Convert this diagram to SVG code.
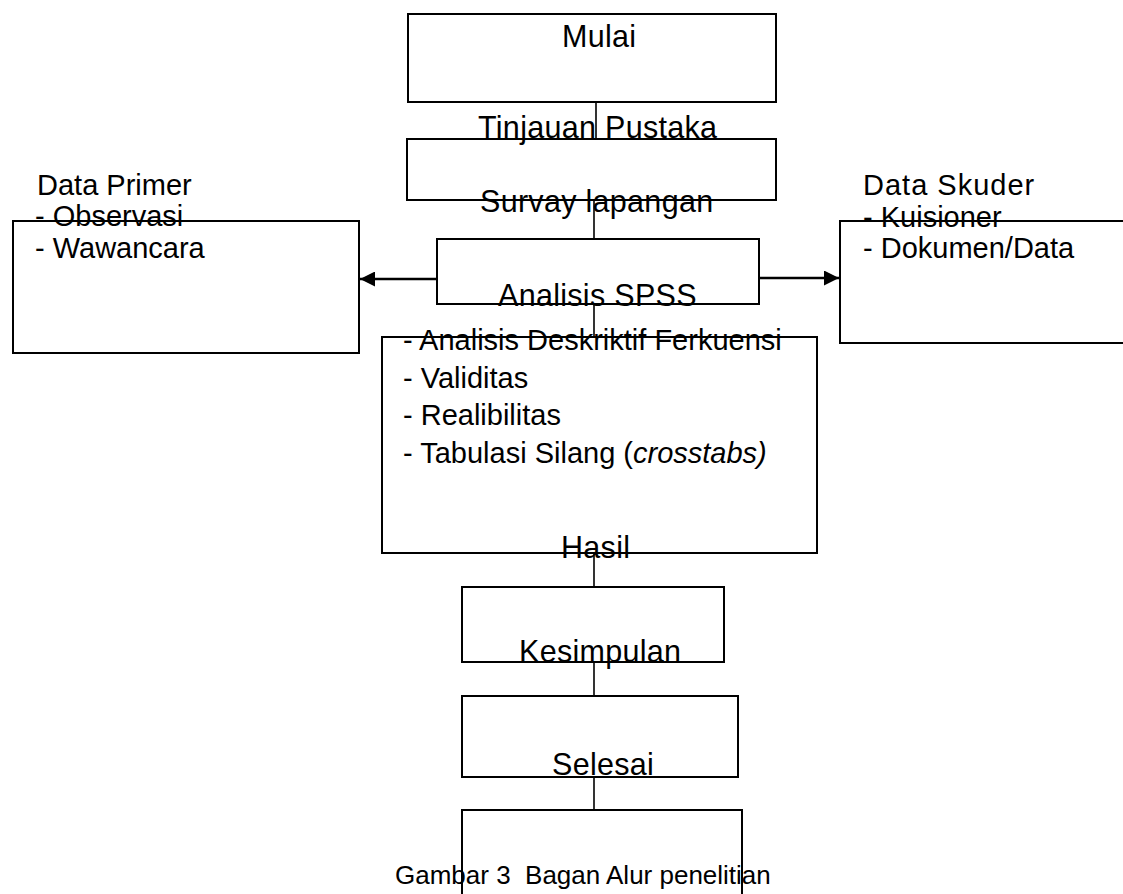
<svg xmlns="http://www.w3.org/2000/svg" width="1123" height="894" viewBox="0 0 1123 894">
<defs>
<style>
.box{fill:none;stroke:#000;stroke-width:2}
.lbl{font-family:"Liberation Sans",Arial,sans-serif;font-size:30.5px;letter-spacing:0.3px;fill:#000}
.lst{font-family:"Liberation Sans",Arial,sans-serif;font-size:29px;fill:#000}
.cap{font-family:"Liberation Sans",Arial,sans-serif;font-size:26px;fill:#000;white-space:pre}
.ln{stroke:#000;stroke-width:1.6;fill:none}
.ar{stroke:#000;stroke-width:2.5;fill:none}
</style>
<marker id="ah" viewBox="0 0 10 10" refX="10" refY="5" markerWidth="6.5" markerHeight="6" markerUnits="strokeWidth" orient="auto">
<path d="M0,0 L10,5 L0,10 z" fill="#000"/>
</marker>
</defs>
<rect width="1123" height="894" fill="#fff"/>
<g id="connectors">
<line class="ln" x1="596" y1="102" x2="596" y2="139"/>
<line class="ln" x1="594" y1="200" x2="594" y2="239"/>
<line class="ln" x1="594" y1="304" x2="594" y2="337"/>
<line class="ln" x1="594" y1="553" x2="594" y2="587"/>
<line class="ln" x1="594" y1="662" x2="594" y2="696"/>
<line class="ln" x1="594" y1="777" x2="594" y2="810"/>
<line class="ar" x1="437" y1="279" x2="360" y2="279" marker-end="url(#ah)"/>
<line class="ar" x1="759" y1="278" x2="839" y2="278" marker-end="url(#ah)"/>
</g>
<g id="mulai">
<rect class="box" x="408" y="14" width="368" height="88"/>
<text class="lbl" x="562" y="47">Mulai</text>
</g>
<g id="tinjauan">
<rect class="box" x="407" y="139" width="369" height="61"/>
<text class="lbl" x="478" y="138">Tinjauan Pustaka</text>
</g>
<g id="survay">
<rect class="box" x="437" y="239" width="322" height="65"/>
<text class="lbl" x="480" y="212">Survay lapangan</text>
</g>
<g id="data-primer">
<rect class="box" x="13" y="221" width="346" height="132"/>
<text class="lst" x="37" y="195">Data Primer</text>
<text class="lst" x="35" y="226">- Observasi</text>
<text class="lst" x="35" y="258">- Wawancara</text>
</g>
<g id="data-skuder">
<rect class="box" x="840" y="221" width="300" height="122"/>
<text class="lst" x="863" y="195" style="letter-spacing:1px">Data Skuder</text>
<text class="lst" x="863" y="227">- Kuisioner</text>
<text class="lst" x="863" y="258">- Dokumen/Data</text>
</g>
<g id="analisis">
<rect class="box" x="382" y="337" width="435" height="216"/>
<text class="lbl" x="498" y="306">Analisis SPSS</text>
<text class="lst" x="403" y="350">- Analisis Deskriktif Ferkuensi</text>
<text class="lst" x="403" y="388">- Validitas</text>
<text class="lst" x="403" y="425">- Realibilitas</text>
<text class="lst" x="403" y="463">- Tabulasi Silang (<tspan font-style="italic">crosstabs)</tspan></text>
</g>
<g id="hasil">
<rect class="box" x="462" y="587" width="262" height="75"/>
<text class="lbl" x="561" y="558">Hasil</text>
</g>
<g id="kesimpulan">
<rect class="box" x="462" y="696" width="276" height="81"/>
<text class="lbl" x="519" y="662">Kesimpulan</text>
</g>
<g id="selesai">
<rect class="box" x="462" y="810" width="280" height="100"/>
<text class="lbl" x="552" y="775">Selesai</text>
</g>
<g id="caption">
<text class="cap" x="395" y="884">Gambar 3  Bagan Alur penelitian</text>
</g>
</svg>
